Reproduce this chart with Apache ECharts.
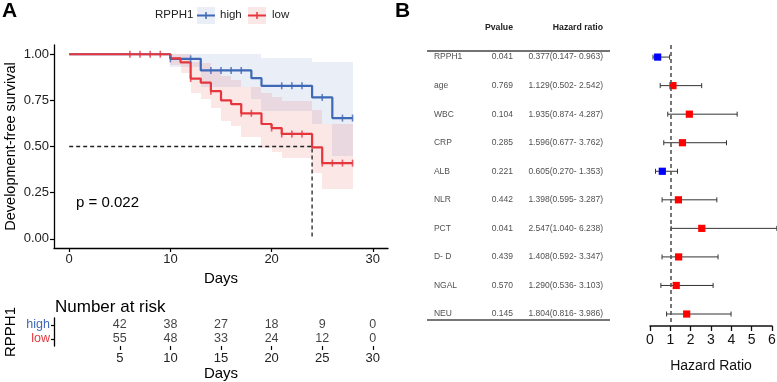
<!DOCTYPE html>
<html>
<head>
<meta charset="utf-8">
<script src="https://cdn.jsdelivr.net/npm/echarts@6.0.0/dist/echarts.min.js"></script>
<style>
html, body { margin: 0; padding: 0; background: #fff; }
#main { width: 777px; height: 382px; }
</style>
</head>
<body>
<div id="main"></div>
<script>
// 生存曲线 + 风险表 + 森林图
var FONT = 'Liberation Sans, Arial, sans-serif';
var BLUE = '#3F68B6';
var RED = '#E6363D';

// KM: high 组
var highTime  = [0, 10, 13, 18, 19, 24, 26, 28];
var highSurv  = [1, 0.975, 0.912, 0.870, 0.829, 0.766, 0.654, 0.654];
var highLower = [1, 0.930, 0.820, 0.760, 0.695, 0.623, 0.450, 0.450];
var highUpper = [1, 1, 1, 1, 0.980, 0.957, 0.957, 0.957];
var highCensor = [10, 12, 14, 15, 16, 17, 21, 22, 23, 25, 27, 28];

// KM: low 组
var lowTime  = [0, 10, 11, 12, 13, 14, 15, 16, 17, 19, 20, 21, 24, 25, 28];
var lowSurv  = [1, 0.978, 0.956, 0.868, 0.846, 0.800, 0.750, 0.730, 0.680, 0.622, 0.600, 0.568, 0.495, 0.410, 0.410];
var lowLower = [1, 0.940, 0.900, 0.790, 0.760, 0.710, 0.640, 0.610, 0.550, 0.490, 0.470, 0.438, 0.355, 0.270, 0.270];
var lowUpper = [1, 1, 1, 0.960, 0.950, 0.920, 0.880, 0.860, 0.820, 0.790, 0.770, 0.745, 0.700, 0.620, 0.620];
var lowCensor = [6, 7, 8, 9, 12, 14, 17, 18, 20, 21, 22, 23, 25, 26, 27, 28];

var medianTime = 24;

// 风险表
var riskTimes = [5, 10, 15, 20, 25, 30];
var riskHigh = [42, 38, 27, 18, 9, 0];
var riskLow = [55, 48, 33, 24, 12, 0];

// 森林图
var forestNames = ['RPPH1', 'age', 'WBC', 'CRP', 'ALB', 'NLR', 'PCT', 'D- D', 'NGAL', 'NEU'];
var forestP = ['0.041', '0.769', '0.104', '0.285', '0.221', '0.442', '0.041', '0.439', '0.570', '0.145'];
var forestHR = [0.377, 1.129, 1.935, 1.596, 0.605, 1.398, 2.547, 1.408, 1.290, 1.804];
var forestLow = [0.147, 0.502, 0.874, 0.677, 0.270, 0.595, 1.040, 0.592, 0.536, 0.816];
var forestHigh = [0.963, 2.542, 4.287, 3.762, 1.353, 3.287, 6.238, 3.347, 3.103, 3.986];

function survAt(time, surv, t) {
    var s = surv[0];
    for (var i = 0; i < time.length; i++) {
        if (time[i] <= t) s = surv[i];
    }
    return s;
}
function pairs(time, surv) {
    return time.map(function (t, i) { return [t, surv[i]]; });
}
function bandData(time, lower, upper) {
    var d = [];
    for (var i = 0; i < time.length - 1; i++) {
        d.push([time[i], time[i + 1], lower[i], upper[i]]);
    }
    return d;
}
function bandSeries(time, lower, upper, fill) {
    return {
        type: 'custom', xAxisIndex: 0, yAxisIndex: 0, silent: true, z: 1,
        encode: { x: [0, 1], y: [2, 3] },
        data: bandData(time, lower, upper),
        renderItem: function (params, api) {
            var a = api.coord([api.value(0), api.value(3)]);
            var b = api.coord([api.value(1), api.value(2)]);
            var x0 = Math.round(a[0]), x1 = Math.round(b[0]);
            var y0 = Math.round(a[1]), y1 = Math.round(b[1]);
            return { type: 'rect', shape: { x: x0, y: y0, width: x1 - x0, height: y1 - y0 }, style: { fill: fill } };
        }
    };
}
function censorSeries(cens, time, surv, color) {
    return {
        type: 'scatter', xAxisIndex: 0, yAxisIndex: 0, z: 5, silent: true,
        symbol: 'rect', symbolSize: [1.6, 7],
        itemStyle: { color: color },
        data: cens.map(function (t) { return [t, survAt(time, surv, t)]; })
    };
}
function hrText(i) {
    return forestHR[i].toFixed(3) + '(' + forestLow[i].toFixed(3) + '- ' + forestHigh[i].toFixed(3) + ')';
}

var myChart = echarts.init(document.getElementById('main'));

var axisBlack = { onZero: false, lineStyle: { color: '#000', width: 1.3 } };
var tableLabel = { show: true, distance: 0, fontSize: 8.5, color: '#222' };

var option = {
    backgroundColor: '#fff',
    animation: false,
    textStyle: { fontFamily: FONT },
    grid: [
        { left: 54, top: 45, width: 334, height: 203, outerBoundsMode: 'none' },   // KM
        { left: 54, top: 318, width: 334, height: 28, outerBoundsMode: 'none' },   // 风险表
        { left: 427, top: 11.4, width: 183, height: 314.6, outerBoundsMode: 'none' }, // 表格
        { left: 650, top: 45.1, width: 122, height: 280.9, outerBoundsMode: 'none' }  // 森林图
    ],
    xAxis: [
        {
            gridIndex: 0, type: 'value', min: -1.5, max: 31.5,
            axisLine: axisBlack, axisTick: { show: true, length: 4, customValues: [0, 10, 20, 30], lineStyle: { color: '#000', width: 1.2 } },
            axisLabel: { customValues: [0, 10, 20, 30], fontSize: 13, color: '#222', margin: 5 },
            splitLine: { show: false },
            name: 'Days', nameLocation: 'middle', nameGap: 19,
            nameTextStyle: { fontSize: 15, color: '#000' }
        },
        {
            gridIndex: 1, type: 'value', min: -1.5, max: 31.5,
            axisLine: axisBlack, axisTick: { show: true, length: 4, customValues: riskTimes, lineStyle: { color: '#000', width: 1.2 } },
            axisLabel: { customValues: riskTimes, fontSize: 13, color: '#222', margin: 6 },
            splitLine: { show: false },
            name: 'Days', nameLocation: 'middle', nameGap: 20,
            nameTextStyle: { fontSize: 15, color: '#000' }
        },
        { gridIndex: 2, type: 'value', min: 0, max: 1, show: false },
        {
            gridIndex: 3, type: 'value', min: 0, max: 6, interval: 1,
            axisLine: { onZero: false, lineStyle: { color: '#111', width: 1.5 } },
            axisTick: { show: true, length: 5, lineStyle: { color: '#111', width: 1.3 } },
            axisLabel: { fontSize: 14, color: '#111', margin: 7 },
            splitLine: { show: false },
            name: 'Hazard Ratio', nameLocation: 'middle', nameGap: 33,
            nameTextStyle: { fontSize: 14, color: '#111' }
        }
    ],
    yAxis: [
        {
            gridIndex: 0, type: 'value', min: -0.05, max: 1.05,
            axisLine: { show: true, onZero: false, lineStyle: { color: '#000', width: 1.3 } },
            axisTick: { show: true, length: 4, customValues: [0, 0.25, 0.5, 0.75, 1], lineStyle: { color: '#000', width: 1.2 } },
            axisLabel: { customValues: [0, 0.25, 0.5, 0.75, 1], fontSize: 13, color: '#222', margin: 5,
                formatter: function (v) { return v.toFixed(2); } },
            splitLine: { show: false },
            name: 'Development-free survival', nameLocation: 'middle', nameGap: 36,
            nameTextStyle: { fontSize: 14.5, color: '#000' }
        },
        {
            gridIndex: 1, type: 'category', data: ['low', 'high'],
            axisLine: { show: true, onZero: false, lineStyle: { color: '#000', width: 1.3 } },
            axisTick: { show: true, length: 3, alignWithLabel: true, lineStyle: { color: '#000', width: 1.2 } },
            axisLabel: { interval: 0, fontSize: 12.5, margin: 4, color: function (v) { return v === 'high' ? BLUE : RED; } },
            name: 'RPPH1', nameLocation: 'middle', nameGap: 36,
            nameTextStyle: { fontSize: 15, color: '#000' }
        },
        { gridIndex: 2, type: 'value', min: -1.6, max: 9.42, inverse: true, show: false },
        { gridIndex: 3, type: 'value', min: -0.42, max: 9.42, inverse: true, show: false }
    ],
    graphic: [
        { type: 'text', left: 2, top: 1, style: { text: 'A', font: 'bold 21px ' + FONT, fill: '#000' } },
        { type: 'text', left: 395, top: 1, style: { text: 'B', font: 'bold 21px ' + FONT, fill: '#000' } },
        // 图例
        { type: 'text', x: 155, y: 15, style: { text: 'RPPH1', font: '11.5px ' + FONT, fill: '#222', verticalAlign: 'middle' } },
        { type: 'rect', shape: { x: 197, y: 7, width: 18, height: 17 }, style: { fill: 'rgba(63,104,182,0.11)' } },
        { type: 'line', shape: { x1: 197, y1: 15.5, x2: 215, y2: 15.5 }, style: { stroke: BLUE, lineWidth: 2 } },
        { type: 'line', shape: { x1: 206, y1: 12, x2: 206, y2: 19 }, style: { stroke: BLUE, lineWidth: 1.5 } },
        { type: 'text', x: 220, y: 15, style: { text: 'high', font: '11.5px ' + FONT, fill: '#222', verticalAlign: 'middle' } },
        { type: 'rect', shape: { x: 248, y: 7, width: 18, height: 17 }, style: { fill: 'rgba(230,54,61,0.12)' } },
        { type: 'line', shape: { x1: 248, y1: 15.5, x2: 266, y2: 15.5 }, style: { stroke: RED, lineWidth: 2 } },
        { type: 'line', shape: { x1: 257, y1: 12, x2: 257, y2: 19 }, style: { stroke: RED, lineWidth: 1.5 } },
        { type: 'text', x: 272, y: 15, style: { text: 'low', font: '11.5px ' + FONT, fill: '#222', verticalAlign: 'middle' } },
        // p 值 和 风险表标题
        { type: 'text', x: 76, y: 203, style: { text: 'p = 0.022', font: '15px ' + FONT, fill: '#000', verticalAlign: 'middle' } },
        { type: 'text', x: 55, y: 307, style: { text: 'Number at risk', font: '17px ' + FONT, fill: '#000', verticalAlign: 'middle' } },
        // 表头
        { type: 'text', x: 513, y: 28, style: { text: 'Pvalue', font: 'bold 8.7px ' + FONT, fill: '#222', align: 'right', verticalAlign: 'middle' } },
        { type: 'text', x: 603, y: 28, style: { text: 'Hazard ratio', font: 'bold 8.7px ' + FONT, fill: '#222', align: 'right', verticalAlign: 'middle' } }
    ],
    series: [
        bandSeries(highTime, highLower, highUpper, 'rgba(63,104,182,0.11)'),
        bandSeries(lowTime, lowLower, lowUpper, 'rgba(230,54,61,0.12)'),
        {
            type: 'line', xAxisIndex: 0, yAxisIndex: 0, z: 3, silent: true, symbol: 'none',
            lineStyle: { color: '#222', width: 1.3, type: [4, 3] },
            data: [[0, 0.5], [medianTime, 0.5], [medianTime, 0]]
        },
        {
            type: 'line', xAxisIndex: 0, yAxisIndex: 0, z: 4, step: 'end', symbol: 'none', silent: true,
            lineStyle: { color: BLUE, width: 2.2 }, data: pairs(highTime, highSurv)
        },
        {
            type: 'line', xAxisIndex: 0, yAxisIndex: 0, z: 4, step: 'end', symbol: 'none', silent: true,
            lineStyle: { color: RED, width: 2.2 }, data: pairs(lowTime, lowSurv)
        },
        censorSeries(highCensor, highTime, highSurv, BLUE),
        censorSeries(lowCensor, lowTime, lowSurv, RED),
        // 风险表数字
        {
            type: 'scatter', xAxisIndex: 1, yAxisIndex: 1, symbolSize: 0, silent: true,
            data: riskTimes.map(function (t) { return [t, 'high']; }),
            label: { show: true, position: 'inside', fontSize: 12.5, color: '#111',
                formatter: function (p) { return String(riskHigh[p.dataIndex]); } }
        },
        {
            type: 'scatter', xAxisIndex: 1, yAxisIndex: 1, symbolSize: 0, silent: true,
            data: riskTimes.map(function (t) { return [t, 'low']; }),
            label: { show: true, position: 'inside', fontSize: 12.5, color: '#111',
                formatter: function (p) { return String(riskLow[p.dataIndex]); } }
        },
        // 表格
        {
            type: 'scatter', xAxisIndex: 2, yAxisIndex: 2, symbolSize: 0, silent: true,
            data: forestNames.map(function (n, i) { return [0.038, i]; }),
            label: Object.assign({ position: 'right',
                formatter: function (p) { return forestNames[p.dataIndex]; } }, tableLabel),
            markLine: {
                silent: true, symbol: 'none', label: { show: false },
                data: [
                    { yAxis: -0.21, lineStyle: { color: '#444', width: 1.5, type: 'solid' } },
                    { yAxis: 9.21, lineStyle: { color: '#777', width: 2, type: 'solid' } }
                ]
            }
        },
        {
            type: 'scatter', xAxisIndex: 2, yAxisIndex: 2, symbolSize: 0, silent: true,
            data: forestP.map(function (n, i) { return [0.47, i]; }),
            label: Object.assign({ position: 'left',
                formatter: function (p) { return forestP[p.dataIndex]; } }, tableLabel)
        },
        {
            type: 'scatter', xAxisIndex: 2, yAxisIndex: 2, symbolSize: 0, silent: true,
            data: forestHR.map(function (n, i) { return [0.962, i]; }),
            label: Object.assign({ position: 'left',
                formatter: function (p) { return hrText(p.dataIndex); } }, tableLabel)
        },
        // 森林图
        {
            type: 'scatter', xAxisIndex: 3, yAxisIndex: 3, symbolSize: 0, silent: true, z: 1,
            data: forestHR.map(function (h, i) { return [h, i]; }),
            markLine: {
                silent: true, symbol: 'none', label: { show: false },
                lineStyle: { color: '#555', width: 1.6, type: [4, 3] },
                data: [{ xAxis: 1 }]
            }
        },
        {
            type: 'custom', xAxisIndex: 3, yAxisIndex: 3, z: 3, silent: true, clip: false,
            encode: { x: [1, 2, 3], y: 0 },
            data: forestHR.map(function (h, i) { return [i, forestLow[i], forestHigh[i], h]; }),
            renderItem: function (params, api) {
                var y = api.coord([0, api.value(0)])[1];
                var xl = api.coord([api.value(1), 0])[0];
                var xh = api.coord([api.value(2), 0])[0];
                var xm = api.coord([api.value(3), 0])[0];
                var col = api.value(3) < 1 ? '#0000FF' : '#FF0000';
                var ln = { stroke: '#333', lineWidth: 1 };
                return {
                    type: 'group',
                    children: [
                        { type: 'line', shape: { x1: xl, y1: y, x2: xh, y2: y }, style: ln },
                        { type: 'line', shape: { x1: xl, y1: y - 2.5, x2: xl, y2: y + 2.5 }, style: ln },
                        { type: 'line', shape: { x1: xh, y1: y - 2.5, x2: xh, y2: y + 2.5 }, style: ln },
                        { type: 'rect', shape: { x: xm - 3.6, y: y - 3.6, width: 7.2, height: 7.2 }, style: { fill: col } }
                    ]
                };
            }
        }
    ]
};

myChart.setOption(option);
</script>
</body>
</html>
